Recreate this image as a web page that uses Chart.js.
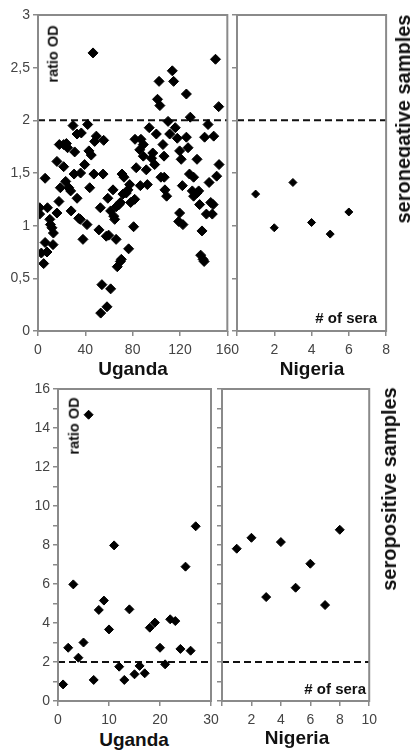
<!DOCTYPE html>
<html>
<head>
<meta charset="utf-8">
<script src="https://cdn.jsdelivr.net/npm/chart.js@4.4.0/dist/chart.umd.min.js"></script>
<style>
  html, body { margin: 0; padding: 0; background: #fff; }
  #fig { position: relative; width: 410px; height: 751px; overflow: hidden; font-family: "Liberation Sans", Arial, sans-serif; }
  #fig canvas { position: absolute; }
  .lbl { position: absolute; white-space: nowrap; color: #111; transform: translate(-50%, -50%); line-height: 1; }
  .title { font-size: 19px; font-weight: bold; }
  .side { font-size: 20px; font-weight: bold; transform: translate(-50%, -50%) rotate(-90deg); }
  .ratio { font-size: 14.5px; font-weight: bold; transform: translate(-50%, -50%) rotate(-90deg); }
  .sera { font-size: 15px; font-weight: bold; transform: translate(-100%, -50%); }
</style>
</head>
<body>
<div id="fig">
  <canvas id="negUganda" width="245" height="360" style="left:0;top:0"></canvas>
  <canvas id="negNigeria" width="170" height="360" style="left:226px;top:0"></canvas>
  <canvas id="posUganda" width="225" height="352" style="left:0;top:374px"></canvas>
  <canvas id="posNigeria" width="172" height="352" style="left:211px;top:374px"></canvas>

  <div class="lbl ratio" style="left:53px;top:54px">ratio OD</div>
  <div class="lbl sera" style="left:377px;top:317px"># of sera</div>
  <div class="lbl side" style="left:403px;top:119px">seronegative samples</div>
  <div class="lbl title" style="left:133px;top:368px">Uganda</div>
  <div class="lbl title" style="left:312px;top:368px">Nigeria</div>

  <div class="lbl ratio" style="left:74px;top:426px">ratio OD</div>
  <div class="lbl sera" style="left:366px;top:688px"># of sera</div>
  <div class="lbl side" style="left:389px;top:489px">seropositive samples</div>
  <div class="lbl title" style="left:134px;top:739px">Uganda</div>
  <div class="lbl title" style="left:297px;top:737px">Nigeria</div>
</div>
<script>
// cut-off line (ratio OD = 2)
const CUTOFF = 2;

// seronegative samples, Uganda
const negUgandaX = [1.4,1.4,2.8,4.8,6,6,7.6,8,10,10.5,
  11.8,12.7,13,16,16,17.7,18,18.9,21.7,21.7,
  23.4,24,25,26,27.6,28,29.6,30.5,31,33,
  33,34.4,35.8,36,36.6,38,39.4,41.4,42,43,
  43.7,45,46.5,47.2,47.9,49.3,51.5,52.7,53,54,
  55,55.5,57.7,58.3,59,59.7,61.4,61.4,63.4,64,
  64.8,66,66.2,67,68.5,69.6,69.6,70.4,71,71.8,
  72.7,74.6,76,76.6,77.5,78.3,80.8,81.7,82,83,
  86,86.5,87,89,89,91.5,92.4,94,96,97,
  98.6,100,101,102.3,103,103.9,105.6,106.5,106.7,107.3,
  108.7,109.9,111.3,113.5,114.6,116,117.7,118.9,119.7,119.7,
  121,122,122.5,125.4,125.4,126.8,128,128.7,130.4,131.5,
  131.5,134.4,134.4,135.8,136.6,137.5,138.6,139.5,140.4,140.8,
  142.3,143.7,144.6,146,147.3,148,148.5,150,151,152.7,
  153];
const negUgandaY = [1.11,1.17,0.74,0.64,1.45,0.84,0.75,1.17,1.06,1.01,
  0.98,0.82,0.93,1.61,1.12,1.23,1.77,1.36,1.56,1.77,
  1.42,1.78,1.74,1.36,1.33,1.14,1.95,1.49,1.70,1.87,
  1.26,1.07,1.06,1.50,1.88,0.87,1.58,1.01,1.96,1.71,
  1.36,1.67,2.64,1.49,1.80,1.85,0.96,1.17,0.17,0.44,
  1.49,1.81,0.90,0.23,1.26,0.91,0.40,1.14,1.34,1.09,
  1.06,0.87,1.18,0.61,1.20,0.66,1.22,0.68,1.49,1.30,
  1.46,1.31,1.34,0.78,1.39,1.22,0.99,1.25,1.82,1.55,
  1.72,1.38,1.82,1.77,1.66,1.53,1.39,1.93,1.64,1.69,
  1.58,1.87,2.20,2.37,2.14,1.46,1.77,1.66,1.46,1.34,
  1.28,1.99,1.87,2.47,2.37,1.93,1.83,1.04,1.71,1.12,
  1.63,1.38,1.01,2.25,1.84,1.74,1.49,2.03,1.33,1.46,
  1.28,1.63,1.31,1.33,1.20,0.72,0.95,0.68,0.66,1.84,
  1.11,1.96,1.41,1.22,1.11,1.20,1.85,2.58,1.47,2.13,
  1.58];

// seronegative samples, Nigeria
const negNigeriaX = [1, 2, 3, 4, 5, 6];
const negNigeriaY = [1.30, 0.98, 1.41, 1.03, 0.92, 1.13];

// seropositive samples, Uganda
const posUgandaX = [1,2,3,4,5,6,7,8,9,10,11,12,13,14,15,16,17,18,19,20,21,22,23,24,25,26,27];
const posUgandaY = [0.85,2.73,5.98,2.22,3.0,14.68,1.08,4.67,5.15,3.67,7.98,1.76,1.08,4.7,
  1.37,1.8,1.42,3.76,4.02,2.73,1.88,4.19,4.1,2.67,6.89,2.58,8.96];

// seropositive samples, Nigeria
const posNigeriaX = [1, 2, 3, 4, 5, 6, 7, 8];
const posNigeriaY = [7.81, 8.37, 5.33, 8.15, 5.81, 7.04, 4.92, 8.78];

const FRAME = '#8a8a8a';
const TICK_FONT = { family: '"Liberation Sans", Arial, sans-serif', size: 14 };

// Grey box round each plot area
const framePlugin = {
  id: 'frame',
  afterDatasetsDraw(chart) {
    const a = chart.chartArea;
    const ctx = chart.ctx;
    ctx.save();
    ctx.strokeStyle = FRAME;
    ctx.lineWidth = 2;
    ctx.strokeRect(a.left, a.top, a.right - a.left, a.bottom - a.top);
    ctx.restore();
  }
};

const comma = v => String(v).replace('.', ',');

function makePanel(id, o) {
  const points = o.xs.map((x, i) => ({ x: x, y: o.ys[i] }));
  new Chart(document.getElementById(id), {
    type: 'scatter',
    data: {
      datasets: [
        {
          type: 'line',
          data: [{ x: o.xMin, y: CUTOFF }, { x: o.xMax, y: CUTOFF }],
          borderColor: '#111',
          borderWidth: 2,
          borderDash: [7, 4],
          pointRadius: 0,
          order: 2
        },
        {
          data: points,
          pointStyle: 'rectRot',
          pointRadius: o.r,
          backgroundColor: '#000',
          borderColor: '#000',
          borderWidth: 1,
          order: 1
        }
      ]
    },
    options: {
      responsive: false,
      animation: false,
      layout: { padding: o.pad },
      plugins: { legend: { display: false }, tooltip: { enabled: false } },
      scales: {
        x: {
          type: 'linear',
          min: o.xMin, max: o.xMax,
          afterFit: s => { s.height = o.xH; },
          grid: { drawOnChartArea: false, tickLength: 5, color: FRAME, lineWidth: 1.5 },
          border: { display: false },
          ticks: {
            stepSize: o.xStep, autoSkip: false, maxRotation: 0, padding: 6,
            color: '#444', font: TICK_FONT,
            callback: v => (o.hideZero && v === 0) ? '' : comma(v)
          }
        },
        y: {
          min: o.yMin, max: o.yMax,
          afterFit: s => { s.width = o.yW; },
          grid: { drawOnChartArea: false, tickLength: 5, color: FRAME, lineWidth: 1.5 },
          border: { display: false },
          ticks: {
            stepSize: o.yStep, autoSkip: false, padding: 3,
            color: '#444', font: TICK_FONT,
            callback: v => o.yLabel(v)
          }
        }
      }
    },
    plugins: [framePlugin]
  });
}

makePanel('negUganda', {
  xs: negUgandaX, ys: negUgandaY, r: 5,
  xMin: 0, xMax: 160, xStep: 40, yMin: 0, yMax: 3, yStep: 0.5,
  yW: 38, xH: 29, pad: { top: 15, right: 17, bottom: 0, left: 0 },
  yLabel: v => comma(v)
});
makePanel('negNigeria', {
  xs: negNigeriaX, ys: negNigeriaY, r: 4, hideZero: true,
  xMin: 0, xMax: 8, xStep: 2, yMin: 0, yMax: 3, yStep: 0.5,
  yW: 11, xH: 29, pad: { top: 15, right: 9, bottom: 0, left: 0 },
  yLabel: v => ''
});
makePanel('posUganda', {
  xs: posUgandaX, ys: posUgandaY, r: 4.5,
  xMin: 0, xMax: 30, xStep: 10, yMin: 0, yMax: 16, yStep: 1,
  yW: 58, xH: 25, pad: { top: 15, right: 14, bottom: 0, left: 0 },
  yLabel: v => (v % 2 === 0) ? String(v) : ''
});
makePanel('posNigeria', {
  xs: posNigeriaX, ys: posNigeriaY, r: 4.5, hideZero: true,
  xMin: 0, xMax: 10, xStep: 2, yMin: 0, yMax: 16, yStep: 1,
  yW: 11, xH: 25, pad: { top: 15, right: 10, bottom: 0, left: 0 },
  yLabel: v => ''
});
</script>
</body>
</html>
